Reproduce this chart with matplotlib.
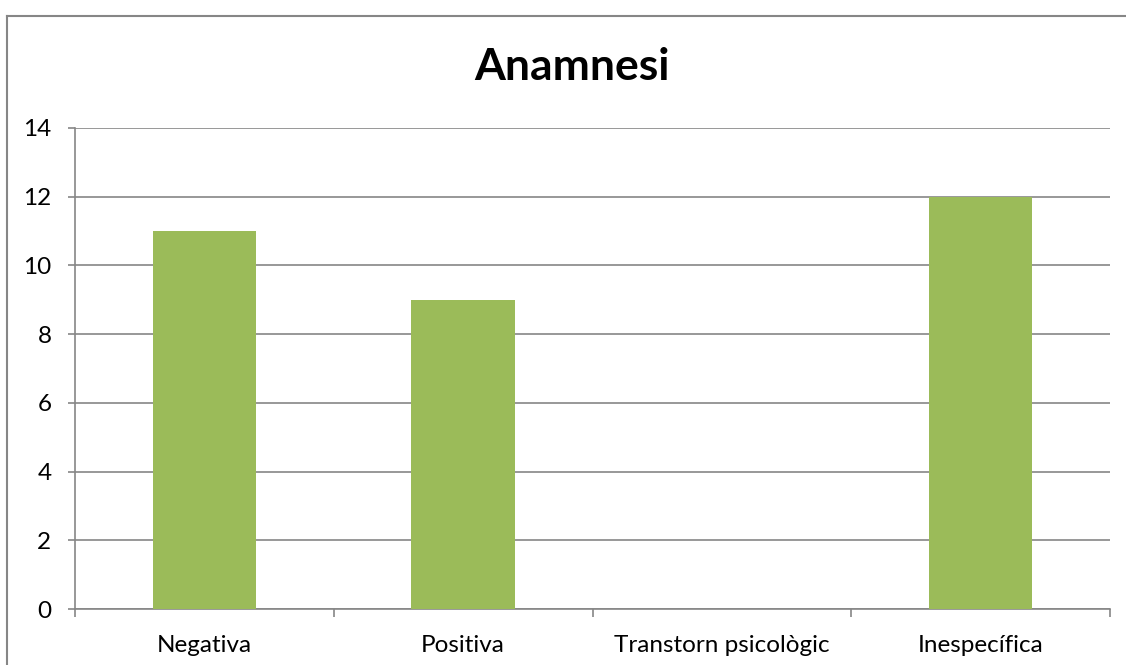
import matplotlib
matplotlib.use('Agg')
import matplotlib.pyplot as plt
from matplotlib.lines import Line2D

categories = ['Negativa', 'Positiva', 'Transtorn psicològic', 'Inespecífica']
values = [11, 9, 0, 12]
yticks = [0, 2, 4, 6, 8, 10, 12, 14]

plt.rcParams['font.family'] = ['Lato', 'DejaVu Sans']

W, H = 1126, 665
fig = plt.figure(figsize=(W / 100, H / 100), dpi=100)
ax = fig.add_axes([75 / W, 1 - 609 / H, (1110 - 75) / W, (609 - 128) / H])

grey = '#868686'
xs = range(len(categories))
ax.bar(xs, values, width=0.4, color='#9BBB59', zorder=3)

ax.set_xlim(-0.5, len(categories) - 0.5)
ax.set_ylim(0, 14)
ax.set_yticks(yticks)
ax.set_yticklabels([str(v) for v in yticks], fontsize=17.5)
ax.yaxis.grid(True, color=grey, linewidth=1.2, zorder=0)

# category labels centred, tick marks on the boundaries
ax.set_xticks([x - 0.5 for x in range(len(categories) + 1)])
ax.set_xticklabels([])
ax.set_xticks(list(xs), minor=True)
ax.set_xticklabels(categories, minor=True, fontsize=17.5)
ax.tick_params(axis='x', which='major', length=6, width=1.2, color=grey, direction='out')
ax.tick_params(axis='x', which='minor', length=0, pad=19)
ax.tick_params(axis='y', length=5, width=1.2, color=grey, pad=12)

for s in ['top', 'right']:
    ax.spines[s].set_visible(False)
for s in ['left', 'bottom']:
    ax.spines[s].set_color(grey)
    ax.spines[s].set_linewidth(1.2)

fig.text(572 / W, 1 - 67 / H, 'Anamnesi', ha='center', va='center',
         fontsize=32, fontweight='bold')

# outer chart border
fig.add_artist(Line2D([7.5 / W, 7.5 / W], [0, 1 - 15.5 / H], transform=fig.transFigure,
                      color=grey, linewidth=1.5))
fig.add_artist(Line2D([7 / W, 1], [1 - 15.5 / H, 1 - 15.5 / H], transform=fig.transFigure,
                      color=grey, linewidth=1.5))

fig.savefig('out.png', dpi=100)
